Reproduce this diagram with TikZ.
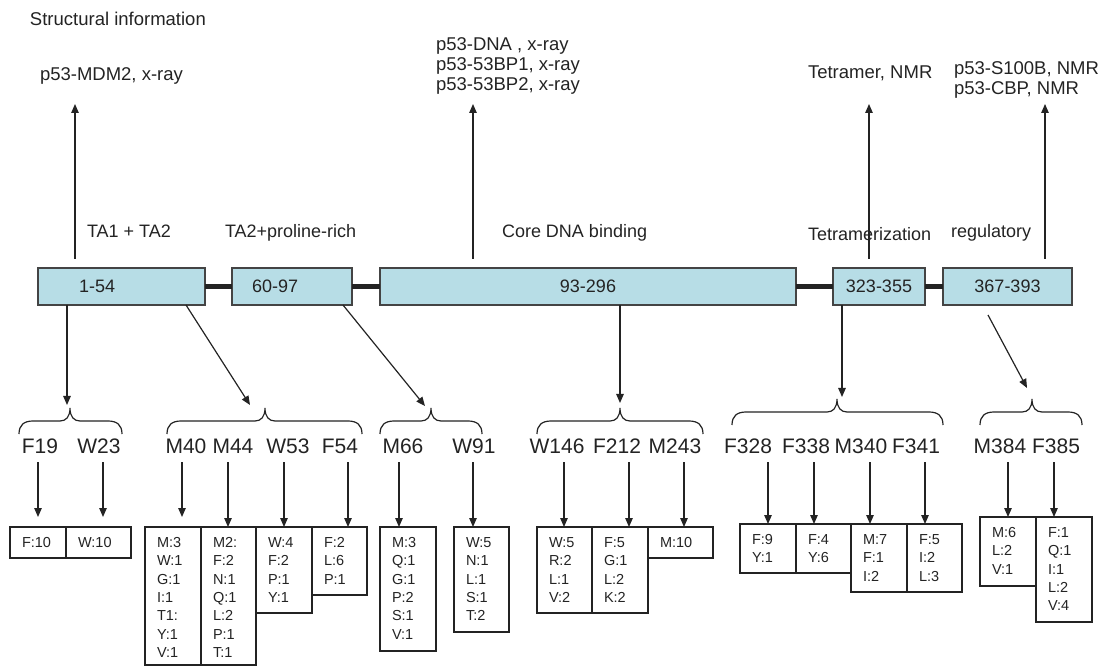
\documentclass[tikz,border=0pt]{standalone}
\usepackage{fontspec}
\setmainfont{Liberation Sans}
\usetikzlibrary{arrows.meta,calc}
\definecolor{domfill}{RGB}{183,221,230}
\definecolor{ink}{RGB}{35,35,35}
\newcommand{\cellbox}[6]{%
  \node[cell, minimum width=#4pt, minimum height=#5pt] (#1) at (#2,#3) {};
  \node[celltxt] (#1t) at ($(#1.north west)+(12,10.5)$) {#6};}
\newcommand{\resarr}[4]{%
  \coordinate (tmpA) at ($(#1.south)+(#2,9)$);
  \draw[arr] (tmpA) -- ($(tmpA |- #3.north)+(0,-#4)$);}
\newcommand{\curlybr}[4]{%
  \draw[bracestyle] (#1,#4) .. controls (#1,#4-9) and (#1+5,#4-13) .. (#1+14,#4-13)
    -- (#2-10,#4-13) .. controls (#2-4,#4-13) and (#2,#4-17) .. (#2,#4-26)
    .. controls (#2,#4-17) and (#2+4,#4-13) .. (#2+10,#4-13)
    -- (#3-14,#4-13) .. controls (#3-5,#4-13) and (#3,#4-9) .. (#3,#4);}
\begin{document}
\begin{tikzpicture}[x=1pt,y=-1pt,
  every node/.style={inner sep=0pt, outer sep=0pt, text=ink},
  toplbl/.style={font=\fontsize{18.5}{20}\selectfont, anchor=base west},
  domlbl/.style={font=\fontsize{18}{20}\selectfont, anchor=base west},
  dombox/.style={draw=ink!85, fill=domfill, line width=1.3pt, anchor=north west},
  rangelbl/.style={font=\fontsize{18}{20}\selectfont},
  reslbl/.style={font=\fontsize{21}{24}\selectfont, anchor=base},
  cell/.style={draw=ink, line width=1.2pt, anchor=north west},
  celltxt/.style={font=\fontsize{14.5}{18.3}\selectfont, align=left, anchor=north west},
  arr/.style={draw=ink, line width=1.2pt, -{Triangle[length=9pt,width=7.5pt]}},
  link/.style={draw=ink, line width=5pt},
  bracestyle/.style={draw=ink, line width=1.2pt},
]
\useasboundingbox (0,0) rectangle (1101,668);

% top labels
\node[toplbl] (title) at (30,26) {Structural information};
\node[toplbl] (s1) at (40,81) {p53-MDM2, x-ray};
\node[toplbl] (s2a) at (436,51) {p53-DNA , x-ray};
\node[toplbl] (s2b) at (436,71) {p53-53BP1, x-ray};
\node[toplbl] (s2c) at (436,91) {p53-53BP2, x-ray};
\node[toplbl] (s3) at (808,79) {Tetramer, NMR};
\node[toplbl] (s4a) at (954,75) {p53-S100B, NMR};
\node[toplbl] (s4b) at (954,95) {p53-CBP, NMR};

% domain labels
\node[domlbl] (l1) at (87,238) {TA1 + TA2};
\node[domlbl] (l2) at (225,238) {TA2+proline-rich};
\node[domlbl] (l3) at (502,238) {Core DNA binding};
\node[domlbl] (l4) at (808,241) {Tetramerization};
\node[domlbl] (l5) at (951,238) {regulatory};

% domain boxes
\node[dombox, minimum width=167pt, minimum height=37pt] (d1) at (38,268) {};
\node[dombox, minimum width=120pt, minimum height=37pt] (d2) at (232,268) {};
\node[dombox, minimum width=416pt, minimum height=37pt] (d3) at (380,268) {};
\node[dombox, minimum width=92pt, minimum height=37pt] (d4) at (833,268) {};
\node[dombox, minimum width=129pt, minimum height=37pt] (d5) at (943,268) {};
\draw[link] (d1.east) -- (d2.west);
\draw[link] (d2.east) -- (d3.west);
\draw[link] (d3.east) -- (d4.west);
\draw[link] (d4.east) -- (d5.west);

\node[rangelbl, anchor=west] (r1) at ($(d1.west)+(41,0)$) {1-54};
\node[rangelbl, anchor=west] (r2) at ($(d2.west)+(20,0)$) {60-97};
\node[rangelbl] (r3) at (d3.center) {93-296};
\node[rangelbl] (r4) at (d4.center) {323-355};
\node[rangelbl] (r5) at (d5.center) {367-393};

% up arrows
\coordinate (t1) at (75,104);
\coordinate (t2) at (473,104);
\coordinate (t3) at (869,104);
\coordinate (t4) at (1045,104);
\draw[arr] ($(d1.north -| t1)+(0,-9)$) -- (t1);
\draw[arr] ($(d3.north -| t2)+(0,-9)$) -- (t2);
\draw[arr] ($(d4.north -| t3)+(0,-9)$) -- (t3);
\draw[arr] ($(d5.north -| t4)+(0,-9)$) -- (t4);

% braces
\curlybr{19}{70}{122}{434}
\curlybr{167}{265}{362}{434}
\curlybr{380}{431}{482}{434}
\curlybr{537}{620}{703}{434}
\curlybr{732}{837}{943}{425}
\curlybr{980}{1032}{1082}{425}

% arrows to braces
\coordinate (a1) at (67,405);
\coordinate (a2) at (250,405);
\coordinate (a3) at (425,406);
\coordinate (a4) at (620,403);
\coordinate (a5) at (842,397);
\coordinate (a6) at (1027,388);
\draw[arr] (d1.south -| a1) -- (a1);
\draw[arr] ($(d1.south east)+(-19,0)$) -- (a2);
\draw[arr] ($(d2.south east)+(-9,0)$) -- (a3);
\draw[arr] (d3.south -| a4) -- (a4);
\draw[arr] (d4.south -| a5) -- (a5);
\draw[arr] ($(d5.south west)+(45,10)$) -- (a6);

% residue labels
\node[reslbl] (F19) at (40,453) {F19};
\node[reslbl] (W23) at (99,453) {W23};
\node[reslbl] (M40) at (186,453) {M40};
\node[reslbl] (M44) at (233,453) {M44};
\node[reslbl] (W53) at (288,453) {W53};
\node[reslbl] (F54) at (340,453) {F54};
\node[reslbl] (M66) at (403,453) {M66};
\node[reslbl] (W91) at (474,453) {W91};
\node[reslbl] (W146) at (557,453) {W146};
\node[reslbl] (F212) at (617,453) {F212};
\node[reslbl] (M243) at (675,453) {M243};
\node[reslbl] (F328) at (748,453) {F328};
\node[reslbl] (F338) at (806,453) {F338};
\node[reslbl] (M340) at (861,453) {M340};
\node[reslbl] (F341) at (916,453) {F341};
\node[reslbl] (M384) at (1000,453) {M384};
\node[reslbl] (F385) at (1056,453) {F385};

% cells
\cellbox{cF19}{10}{527}{56}{31}{F:10}
\cellbox{cW23}{66}{527}{65}{31}{W:10}
\cellbox{cM40}{145}{527}{56}{138}{M:3\\W:1\\G:1\\I:1\\T1:\\Y:1\\V:1}
\cellbox{cM44}{201}{527}{55}{138}{M2:\\F:2\\N:1\\Q:1\\L:2\\P:1\\T:1}
\cellbox{cW53}{256}{527}{56}{86}{W:4\\F:2\\P:1\\Y:1}
\cellbox{cF54}{312}{527}{55}{68}{F:2\\L:6\\P:1}
\cellbox{cM66}{380}{527}{56}{124}{M:3\\Q:1\\G:1\\P:2\\S:1\\V:1}
\cellbox{cW91}{454}{527}{55}{105}{W:5\\N:1\\L:1\\S:1\\T:2}
\cellbox{cW146}{537}{527}{55}{86}{W:5\\R:2\\L:1\\V:2}
\cellbox{cF212}{592}{527}{56}{86}{F:5\\G:1\\L:2\\K:2}
\cellbox{cM243}{648}{527}{65}{31}{M:10}
\cellbox{cF328}{740}{524}{56}{49}{F:9\\Y:1}
\cellbox{cF338}{796}{524}{55}{49}{F:4\\Y:6}
\cellbox{cM340}{851}{524}{56}{68}{M:7\\F:1\\I:2}
\cellbox{cF341}{907}{524}{55}{68}{F:5\\I:2\\L:3}
\cellbox{cM384}{980}{517}{56}{69}{M:6\\L:2\\V:1}
\cellbox{cF385}{1036}{517}{56}{105}{F:1\\Q:1\\I:1\\L:2\\V:4}

% residue arrows
\resarr{F19}{-2}{cF19}{10}
\resarr{W23}{4}{cW23}{10}
\resarr{M40}{-4}{cM40}{10}
\resarr{M44}{-5}{cM44}{0}
\resarr{W53}{-4}{cW53}{0}
\resarr{F54}{8}{cF54}{0}
\resarr{M66}{-4}{cM66}{0}
\resarr{W91}{-1}{cW91}{0}
\resarr{W146}{7}{cW146}{0}
\resarr{F212}{12}{cF212}{0}
\resarr{M243}{9}{cM243}{0}
\resarr{F328}{20}{cF328}{0}
\resarr{F338}{8}{cF338}{0}
\resarr{M340}{9}{cM340}{0}
\resarr{F341}{9}{cF341}{0}
\resarr{M384}{8}{cM384}{0}
\resarr{F385}{-2}{cF385}{0}
\end{tikzpicture}
\end{document}
